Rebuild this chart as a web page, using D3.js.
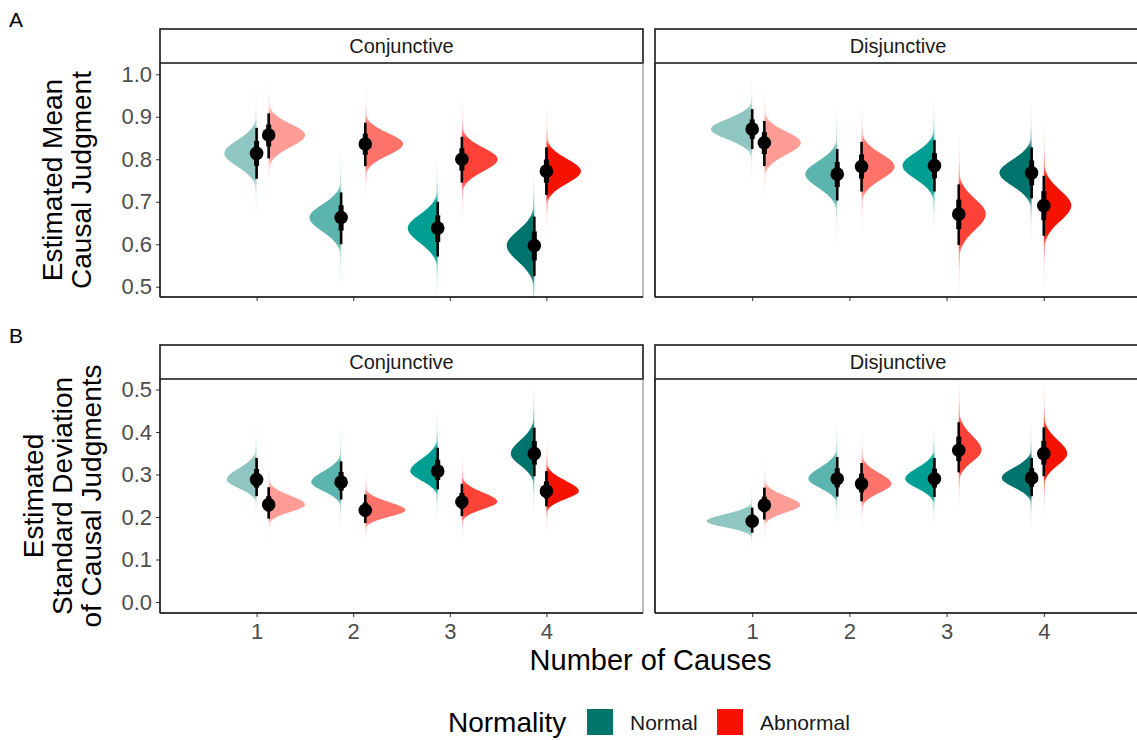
<!DOCTYPE html>
<html>
<head>
<meta charset="utf-8">
<script src="https://cdn.jsdelivr.net/npm/d3@7"></script>
<style>
  body { margin: 0; background: #fff; }
  svg { font-family: "Liberation Sans", Arial, Helvetica, sans-serif; }
</style>
</head>
<body>
<svg id="chart" width="1137" height="740"></svg>
<script>
const causes = [1, 2, 3, 4]
const normality = ["Normal", "Abnormal"]
const structures = ["Conjunctive", "Disjunctive"]

// [number of causes, normality, estimate, lower 95%, upper 95%]
const meanConjunctive = [
  [1, "Normal", 0.814, 0.754, 0.874], [1, "Abnormal", 0.857, 0.802, 0.908],
  [2, "Normal", 0.663, 0.600, 0.722], [2, "Abnormal", 0.836, 0.784, 0.886],
  [3, "Normal", 0.638, 0.571, 0.700], [3, "Abnormal", 0.800, 0.745, 0.853],
  [4, "Normal", 0.597, 0.525, 0.665], [4, "Abnormal", 0.772, 0.716, 0.828]
]
const meanDisjunctive = [
  [1, "Normal", 0.871, 0.824, 0.918], [1, "Abnormal", 0.839, 0.784, 0.890],
  [2, "Normal", 0.765, 0.703, 0.824], [2, "Abnormal", 0.783, 0.724, 0.841],
  [3, "Normal", 0.785, 0.724, 0.845], [3, "Abnormal", 0.671, 0.598, 0.741],
  [4, "Normal", 0.768, 0.708, 0.828], [4, "Abnormal", 0.691, 0.620, 0.761]
]
const sdConjunctive = [
  [1, "Normal", 0.288, 0.249, 0.339], [1, "Abnormal", 0.229, 0.196, 0.270],
  [2, "Normal", 0.282, 0.241, 0.331], [2, "Abnormal", 0.216, 0.186, 0.253],
  [3, "Normal", 0.308, 0.265, 0.363], [3, "Abnormal", 0.236, 0.202, 0.278],
  [4, "Normal", 0.349, 0.296, 0.410], [4, "Abnormal", 0.261, 0.225, 0.308]
]
const sdDisjunctive = [
  [1, "Normal", 0.190, 0.163, 0.222], [1, "Abnormal", 0.228, 0.194, 0.269],
  [2, "Normal", 0.290, 0.248, 0.341], [2, "Abnormal", 0.278, 0.237, 0.327],
  [3, "Normal", 0.290, 0.247, 0.339], [3, "Abnormal", 0.357, 0.305, 0.423],
  [4, "Normal", 0.292, 0.249, 0.339], [4, "Abnormal", 0.349, 0.296, 0.411]
]

const meanTicks = [0.5, 0.6, 0.7, 0.8, 0.9, 1.0]
const sdTicks = [0.0, 0.1, 0.2, 0.3, 0.4, 0.5]

const normalFill = ["#8fc6c2", "#5bb4ad", "#009e93", "#00746c"]
const abnormalFill = ["#ff9c96", "#ff736a", "#ff4238", "#f51200"]
const legendFill = ["#00756c", "#f81100"]

// horizontal dodge of each pair (in units of causes)
const dodge = {Normal: [0, -0.125, -0.125, -0.125], Abnormal: [0.125, 0.125, 0.125, 0]}

const svg = d3.select("#chart")
const defs = svg.append("defs")

const cols = [[160, 643], [655, 1141]]
const rows = [
  {label: "A", labelY: 27, strip: 29, top: 63, bottom: 297, domain: [0.4758, 1.0266], ticks: meanTicks,
   data: [meanConjunctive, meanDisjunctive], slab: 1050, xLabels: false,
   title: ["Estimated Mean", "Causal Judgment"], titleX: [62, 91]},
  {label: "B", labelY: 343, strip: 345, top: 379, bottom: 613, domain: [-0.0259, 0.5247], ticks: sdTicks,
   data: [sdConjunctive, sdDisjunctive], slab: 730, xLabels: true,
   title: ["Estimated", "Standard Deviation", "of Causal Judgments"], titleX: [43, 72, 101]}
]

let gradId = 0

function drawPanel(row, ci) {
  const [x0, x1] = cols[ci]
  const x = d3.scaleLinear().domain([0, 5]).range([x0, x1])
  const y = d3.scaleLinear().domain(row.domain).range([row.bottom, row.top])
  const g = svg.append("g")

  // strip
  g.append("rect")
    .attr("x", x0).attr("y", row.strip)
    .attr("width", x1 - x0).attr("height", row.top - row.strip)
    .attr("fill", "#fff").attr("stroke", "#1a1a1a").attr("stroke-width", 1.6)
  g.append("text")
    .attr("x", (x0 + x1) / 2).attr("y", (row.strip + row.top) / 2)
    .attr("text-anchor", "middle").attr("dominant-baseline", "central")
    .attr("font-size", 20).attr("fill", "#1a1a1a")
    .text(structures[ci])

  // panel border
  g.append("rect")
    .attr("x", x0).attr("y", row.top)
    .attr("width", x1 - x0).attr("height", row.bottom - row.top)
    .attr("fill", "none").attr("stroke", "#555").attr("stroke-width", 0.8)

  const clipId = "clip" + row.label + ci
  defs.append("clipPath").attr("id", clipId)
    .append("rect").attr("x", x0).attr("y", row.top)
    .attr("width", x1 - x0).attr("height", row.bottom - row.top)

  const marks = g.append("g").attr("clip-path", `url(#${clipId})`)
  const pts = row.data[ci].map(([c, n, est, lo, hi]) => {
    const i = causes.indexOf(c)
    return {
      c, n, est, lo, hi,
      sLo: (est - lo) / 1.96, sHi: (hi - est) / 1.96,
      px: x(c + dodge[n][i]),
      dir: n === "Normal" ? -1 : 1,
      fill: n === "Normal" ? normalFill[i] : abnormalFill[i]
    }
  })

  // slabs
  pts.forEach(d => {
    const sLoPx = y(d.est - d.sLo) - y(d.est)
    const sHiPx = y(d.est) - y(d.est + d.sHi)
    const peak = 2 / (Math.sqrt(2 * Math.PI) * (sLoPx + sHiPx))
    const zs = d3.range(-5.5, 5.5001, 0.05)
    const samples = zs.map(z => {
      const v = z < 0 ? d.est + z * d.sLo : d.est + z * d.sHi
      const w = Math.max(row.slab * peak * Math.exp(-z * z / 2), 1.2)
      return {v, w}
    })
    const yTop = y(d.est + 5.5 * d.sHi)
    const yBot = y(d.est - 5.5 * d.sLo)
    const id = "fade" + (gradId++)
    const grad = defs.append("linearGradient").attr("id", id)
      .attr("gradientUnits", "userSpaceOnUse")
      .attr("x1", 0).attr("x2", 0).attr("y1", yTop).attr("y2", yBot)
    const stops = [[5.5, 0], [3.6, 0.12], [2.6, 0.45], [1.8, 1], [-1.8, 1], [-2.6, 0.45], [-3.6, 0.12], [-5.5, 0]]
    stops.forEach(([z, a]) => {
      const py = y(z > 0 ? d.est + z * d.sHi : d.est + z * d.sLo)
      grad.append("stop")
        .attr("offset", (py - yTop) / (yBot - yTop))
        .attr("stop-color", d.fill).attr("stop-opacity", a)
    })
    const area = d3.area()
      .y(s => y(s.v))
      .x0(d.px)
      .x1(s => d.px + d.dir * s.w)
    marks.append("path")
      .attr("d", area(samples))
      .attr("fill", `url(#${id})`)
  })

  // intervals and points
  pts.forEach(d => {
    marks.append("line")
      .attr("x1", d.px).attr("x2", d.px)
      .attr("y1", y(d.lo)).attr("y2", y(d.hi))
      .attr("stroke", "#000").attr("stroke-width", 2.6)
    marks.append("line")
      .attr("x1", d.px).attr("x2", d.px)
      .attr("y1", y(d.est - 0.954 * d.sLo)).attr("y2", y(d.est + 0.954 * d.sHi))
      .attr("stroke", "#000").attr("stroke-width", 5)
    marks.append("circle")
      .attr("cx", d.px).attr("cy", y(d.est)).attr("r", 6.8)
      .attr("fill", "#000")
  })

  // axes
  const xAxis = d3.axisBottom(x).tickValues(causes).tickSize(4).tickPadding(6)
    .tickFormat(row.xLabels ? d3.format("d") : "")
  const xg = g.append("g").attr("transform", `translate(0,${row.bottom})`).call(xAxis)
  xg.select(".domain").remove()
  xg.selectAll(".tick line").attr("stroke", "#333").attr("stroke-width", 1)
  xg.selectAll(".tick text").attr("font-size", 22).attr("fill", "#4d4d4d")
    .attr("font-family", null)

  g.append("line")
    .attr("x1", x0).attr("x2", x1).attr("y1", row.bottom).attr("y2", row.bottom)
    .attr("stroke", "#111").attr("stroke-width", 1.5)

  if (ci === 0) {
    const yAxis = d3.axisLeft(y).tickValues(row.ticks).tickFormat(d3.format(".1f")).tickSize(4).tickPadding(4)
    const yg = g.append("g").attr("transform", `translate(${x0},0)`).call(yAxis)
    yg.select(".domain").remove()
    yg.selectAll(".tick line").attr("stroke", "#333").attr("stroke-width", 1)
    yg.selectAll(".tick text").attr("font-size", 22).attr("fill", "#4d4d4d")
      .attr("font-family", null)
  }
  g.append("line")
    .attr("x1", x0).attr("x2", x0).attr("y1", row.top).attr("y2", row.bottom)
    .attr("stroke", "#111").attr("stroke-width", 1.5)
}

rows.forEach(row => {
  drawPanel(row, 0)
  drawPanel(row, 1)

  svg.append("text")
    .attr("x", 9).attr("y", row.labelY)
    .attr("font-size", 21).attr("fill", "#000")
    .text(row.label)

  const cy = (row.top + row.bottom) / 2
  row.title.forEach((t, i) => {
    svg.append("text")
      .attr("transform", `translate(${row.titleX[i]},${cy}) rotate(-90)`)
      .attr("text-anchor", "middle")
      .attr("font-size", 28).attr("fill", "#000")
      .text(t)
  })
})

svg.append("text")
  .attr("x", (cols[0][0] + cols[1][1]) / 2).attr("y", 670)
  .attr("text-anchor", "middle")
  .attr("font-size", 29).attr("fill", "#000")
  .text("Number of Causes")

// legend
const legend = svg.append("g")
legend.append("text")
  .attr("x", 448).attr("y", 732)
  .attr("font-size", 28).attr("fill", "#000")
  .text("Normality")
const keyX = [587, 717]
normality.forEach((n, i) => {
  legend.append("rect")
    .attr("x", keyX[i]).attr("y", 709).attr("width", 26).attr("height", 26)
    .attr("fill", legendFill[i])
  legend.append("text")
    .attr("x", keyX[i] + 43).attr("y", 730)
    .attr("font-size", 21).attr("fill", "#1a1a1a")
    .text(n)
})
</script>
</body>
</html>
